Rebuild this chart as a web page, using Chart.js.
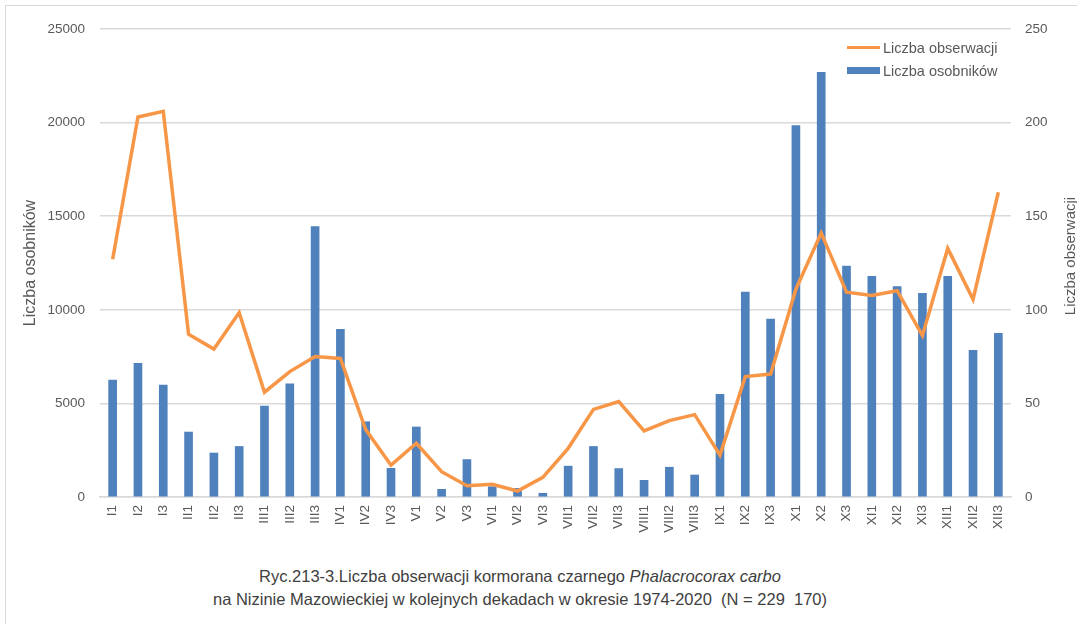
<!DOCTYPE html>
<html>
<head>
<meta charset="utf-8">
<script src="https://cdn.jsdelivr.net/npm/chart.js@4/dist/chart.umd.min.js"></script>
<style>
  body { margin: 0; background: #fff; width: 1077px; height: 624px; overflow: hidden; position: relative; font-family: "Liberation Sans", Arial, sans-serif; }
  #frame { position: absolute; left: 5px; top: 5px; width: 1100px; height: 700px; border: 1px solid #d9d9d9; box-sizing: border-box; }
  #wrap { position: absolute; left: 0; top: 0; width: 1077px; height: 560px; }
  #legend { position: absolute; left: 847px; top: 36px; font-size: 14.5px; color: #595959; }
  #legend div { height: 23px; display: flex; align-items: center; }
  #legend span.sw { display: inline-block; width: 33px; margin-right: 3px; }
  #caption { position: absolute; left: 0; width: 1040px; top: 565px; text-align: center; font-size: 16.5px; color: #404040; line-height: 23px; }
</style>
</head>
<body>
<div id="frame"></div>
<div id="wrap"><canvas id="chart"></canvas></div>
<div id="legend"></div>
<div id="caption">Ryc.213-3.Liczba obserwacji kormorana czarnego <i>Phalacrocorax carbo</i><br>na Nizinie Mazowieckiej w kolejnych dekadach w okresie 1974-2020&nbsp; (N = 229&nbsp; 170)</div>
<script>
  const decades = ['I1','I2','I3','II1','II2','II3','III1','III2','III3','IV1','IV2','IV3',
    'V1','V2','V3','VI1','VI2','VI3','VII1','VII2','VII3','VIII1','VIII2','VIII3',
    'IX1','IX2','IX3','X1','X2','X3','XI1','XI2','XI3','XII1','XII2','XII3'];

  // Liczba osobników (left axis, bars)
  const birds = [6250, 7140, 5980, 3470, 2350, 2700, 4860, 6040, 14440, 8960, 4020, 1530,
    3740, 410, 2000, 550, 460, 200, 1650, 2700, 1520, 890, 1590, 1175,
    5490, 10950, 9510, 19840, 22690, 12340, 11790, 11240, 10880, 11790, 7840, 8740];

  // Liczba obserwacji (right axis, line)
  const observations = [127, 203, 206, 87, 79, 98.5, 56, 67, 75, 74, 36, 17,
    28.7, 13.5, 6, 6.8, 3.2, 10.5, 26, 46.8, 51, 35.3, 40.8, 44,
    22.4, 64.3, 65.7, 111, 141, 109.4, 107.7, 110.2, 86.2, 132.8, 105.6, 162.8];

  const leftTicks = [0, 25000, 5000];
  const rightTicks = [0, 250, 50];

  const grey = '#595959';
  const gridColor = '#d9d9d9';
  const family = '"Liberation Sans", Arial, sans-serif';

  // right axis title drawn bottom-to-top like the original
  const rightTitle = {
    id: 'rightTitle',
    afterDraw(chart) {
      const ctx = chart.ctx;
      const area = chart.chartArea;
      ctx.save();
      ctx.translate(1071, (area.top + area.bottom) / 2 - 7);
      ctx.rotate(-Math.PI / 2);
      ctx.font = '15px ' + family;
      ctx.fillStyle = grey;
      ctx.textAlign = 'center';
      ctx.textBaseline = 'middle';
      ctx.fillText('Liczba obserwacji', 0, 0);
      ctx.restore();
    }
  };

  const chart = new Chart(document.getElementById('chart'), {
    data: {
      labels: decades,
      datasets: [{
        type: 'line',
        label: 'Liczba obserwacji',
        data: observations,
        yAxisID: 'y1',
        borderColor: '#f79646',
        backgroundColor: '#f79646',
        borderWidth: 3.5,
        pointRadius: 0,
        tension: 0,
        order: 0
      }, {
        type: 'bar',
        label: 'Liczba osobników',
        data: birds,
        yAxisID: 'y',
        backgroundColor: '#4f81bd',
        barThickness: 8,
        order: 1
      }]
    },
    options: {
      responsive: true,
      maintainAspectRatio: false,
      animation: false,
      layout: { padding: { top: 29, left: 0, right: 0, bottom: 0 } },
      plugins: {
        legend: { display: false },
        tooltip: { enabled: false }
      },
      scales: {
        x: {
          offset: true,
          grid: { display: false, drawTicks: false },
          border: { display: true, color: gridColor, width: 1.5 },
          ticks: {
            color: grey,
            font: { size: 13.5, family: family },
            minRotation: 90,
            maxRotation: 90,
            autoSkip: false,
            padding: 8
          },
          afterFit: s => { s.height = 63; }
        },
        y: {
          position: 'left',
          min: leftTicks[0],
          max: leftTicks[1],
          ticks: {
            stepSize: leftTicks[2],
            color: grey,
            padding: 15,
            font: { size: 13.5, family: family },
            callback: v => String(v)
          },
          grid: { color: gridColor, lineWidth: 1.5, drawTicks: false },
          border: { display: false },
          title: {
            display: true,
            text: 'Liczba osobników',
            color: grey,
            font: { size: 16, family: family },
            padding: { top: 21, bottom: 0 }
          },
          afterFit: s => { s.width = 100; }
        },
        y1: {
          position: 'right',
          min: rightTicks[0],
          max: rightTicks[1],
          ticks: {
            stepSize: rightTicks[2],
            color: grey,
            padding: 14,
            font: { size: 13.5, family: family },
            callback: v => String(v)
          },
          grid: { display: false, drawTicks: false },
          border: { display: false },
          afterFit: s => { s.width = 66; }
        }
      }
    },
    plugins: [rightTitle]
  });

  // legend built from the datasets
  const legend = document.getElementById('legend');
  chart.data.datasets.forEach(ds => {
    const row = document.createElement('div');
    const sw = document.createElement('span');
    sw.className = 'sw';
    sw.style.background = ds.type === 'line' ? ds.borderColor : ds.backgroundColor;
    sw.style.height = ds.type === 'line' ? '3px' : '7px';
    row.appendChild(sw);
    row.appendChild(document.createTextNode(ds.label));
    legend.appendChild(row);
  });
</script>
</body>
</html>
